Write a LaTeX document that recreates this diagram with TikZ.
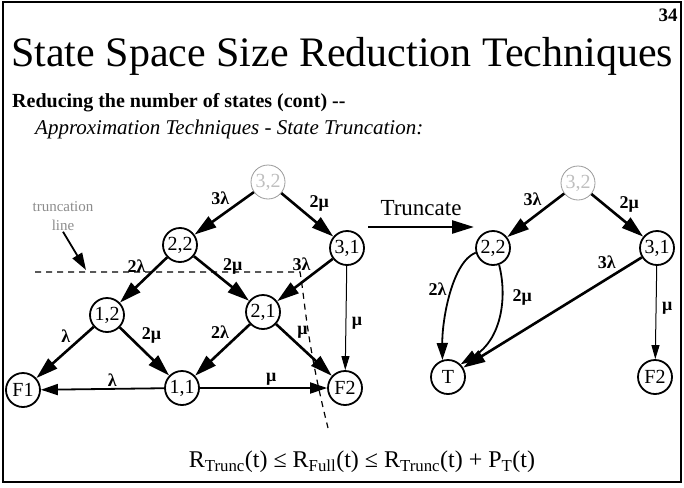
\documentclass[tikz,border=0pt]{standalone}
\usepackage{fontspec}
\setmainfont{Liberation Serif}
\usetikzlibrary{arrows.meta, positioning, calc, shapes}

\begin{document}
\begin{tikzpicture}[x=1pt, y=-1pt,
	state/.style={circle, draw, line width=1.8pt, minimum size=34pt, inner sep=0pt, font=\fontsize{20}{20}\selectfont},
	faint/.style={state, draw=black!40, line width=0.8pt, text=black!25},
	heavy/.style={line width=2.6pt, -{Triangle[length=22pt, width=13pt]}},
	medium/.style={line width=1.8pt, -{Triangle[length=17pt, width=11pt]}},
	light/.style={line width=1pt, -{Triangle[length=14pt, width=8pt]}},
	rate/.style={font=\bfseries\fontsize{18}{18}\selectfont, inner sep=1.5pt}]
	\useasboundingbox (0,0) rectangle (684,487);
	
	% Frame and headings
	\draw[line width=1.2pt] (3,2) rectangle (681,482);
	\node[font=\bfseries\fontsize{19}{19}\selectfont] (page) at (668,15) {34};
	\node[anchor=base west, font=\fontsize{42}{42}\selectfont, inner sep=0pt] (title) at (11,66) {State Space Size Reduction Techniques};
	\node[anchor=base west, font=\bfseries\fontsize{20}{20}\selectfont, inner sep=0pt] (sub) at (12,107) {Reducing the number of states (cont) -{}-};
	\node[anchor=base west, font=\itshape\fontsize{21}{21}\selectfont, inner sep=0pt] (topic) at (35,134) {Approximation Techniques - State Truncation:};
	
	% Full model
	\node[faint] (a32) at (268,182) {3,2};
	\node[state] (a22) at (180,245) {2,2};
	\node[state] (a31) at (347,248) {3,1};
	\node[state] (a12) at (107,315) {1,2};
	\node[state] (a21) at (263,312) {2,1};
	\node[state] (a11) at (182,388) {1,1};
	\node[state] (aF1) at (23,390) {F1};
	\node[state] (aF2) at (345,388) {F2};
	
	\draw[heavy] (a32) -- (a22) node[rate, pos=.37, above left] {3λ};
	\draw[heavy] (a32) -- (a31) node[rate, pos=.49, above right] {2μ};
	\draw[heavy] (a22) -- (a12) node[rate, pos=.40, above left] {2λ};
	\draw[heavy] (a22) -- (a21) node[rate, pos=.48, above right] {2μ};
	\draw[heavy] (a31) -- (a21) node[rate, pos=.35, above left] {3λ};
	\draw[light] (a31) -- (aF2) node[rate, pos=.55, right=4pt] {μ};
	\draw[heavy] (a12) -- (aF1) node[rate, pos=.36, above left] {λ};
	\draw[heavy] (a12) -- (a11) node[rate, pos=.39, above right] {2μ};
	\draw[heavy] (a21) -- (a11) node[rate, pos=.33, above left] {2λ};
	\draw[heavy] (a21) -- (aF2) node[rate, pos=.33, above right] {μ};
	\draw[medium] (a11) -- (aF1) node[rate, pos=.42, above] {λ};
	\draw[medium] (a11) -- (aF2) node[rate, pos=.56, above] {μ};
	
	% Truncation line
	\draw[line width=1.2pt, dash pattern=on 6pt off 5pt] (35,272) -- (300,272)
		.. controls (305,300) and (306,340) .. (328,428);
	\node[align=center, text=black!45, font=\fontsize{15}{19}\selectfont, inner sep=1pt] (tlabel) at (63,216) {truncation\\line};
	\coordinate (tline) at (86,270);
	\draw[medium] (tlabel.south) -- (tline);
	
	% Truncate arrow
	\coordinate (tr0) at (368,227);
	\coordinate (tr1) at (474,227);
	\draw[heavy] (tr0) -- (tr1) node[midway, above=7pt, font=\fontsize{23}{23}\selectfont] {Truncate};
	
	% Truncated model
	\node[faint] (b32) at (578,183) {3,2};
	\node[state] (b22) at (493,248) {2,2};
	\node[state] (b31) at (657,248) {3,1};
	\node[state] (bT) at (448,377) {T};
	\node[state] (bF2) at (655,377) {F2};
	
	\draw[heavy] (b32) -- (b22) node[rate, pos=.35, above left] {3λ};
	\draw[heavy] (b32) -- (b31) node[rate, pos=.49, above right] {2μ};
	\draw[medium] (b22.195) .. controls (452,262) and (442,320) .. (bT.108)
		node[rate, pos=.45, left=3pt] {2λ};
	\draw[medium] (b22.290) .. controls (508,300) and (500,340) .. (bT.45)
		node[rate, pos=.3, right=8pt] {2μ};
	\draw[heavy] (b31) -- (bT) node[rate, pos=.13, above left] {3λ};
	\draw[light] (b31) -- (bF2) node[rate, pos=.45, right=4pt] {μ};
	
	% Bound
	\node[font=\fontsize{24}{24}\selectfont] (bound) at (362,462)
		{R\textsubscript{Trunc}(t) ≤ R\textsubscript{Full}(t) ≤ R\textsubscript{Trunc}(t) + P\textsubscript{T}(t)};
\end{tikzpicture}
\end{document}
